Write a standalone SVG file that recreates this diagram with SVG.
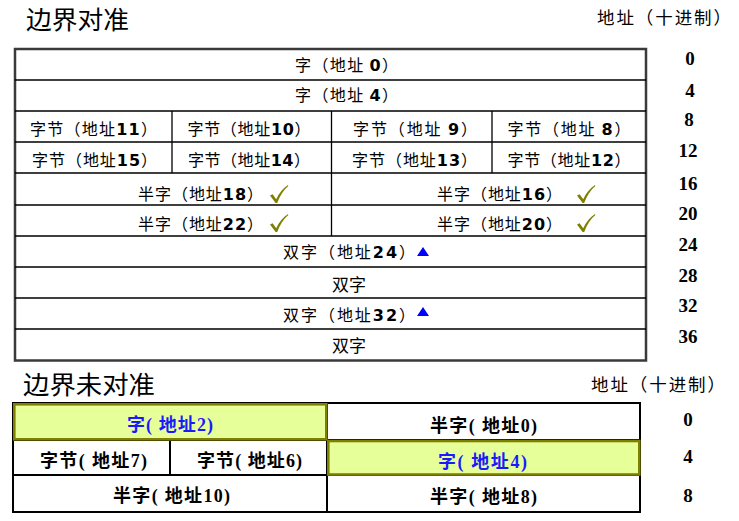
<svg xmlns="http://www.w3.org/2000/svg" width="739" height="521" viewBox="0 0 739 521">
<style>
.t{font-family:"Noto Sans CJK SC","Liberation Sans",sans-serif;font-size:16px;fill:#000;text-anchor:middle}
.d{font-family:"DejaVu Sans","Liberation Sans",sans-serif;font-weight:bold}
.title{font-family:"Noto Sans CJK SC",sans-serif;font-size:25px;fill:#000}
.hdr{font-family:"Noto Sans CJK SC",sans-serif;font-size:17.5px;fill:#000}
.num{font-family:"Liberation Serif","Times New Roman",serif;font-weight:bold;font-size:19px;fill:#000;text-anchor:middle}
.b{font-family:"Liberation Serif","Noto Sans CJK SC",serif;font-weight:bold;font-size:18px;fill:#000;text-anchor:middle}
.blue{fill:#1a1aff}
.ln{stroke:#000;stroke-width:1.3;fill:none}
.ln2{stroke:#000;stroke-width:2;fill:none}
.hl{fill:#e6ff99;stroke:#808000;stroke-width:2.6}
.tri{fill:#0000ff}
.chk{fill:#7f7f00}
</style>
<defs>
<path id="check" d="M0,10.5 L2.6,9.2 L6.2,14.2 C9.2,8 13,3.2 18,0 L18.3,0.9 C13.6,4.8 10,10.5 7.2,18 L5.6,18 Z"/>
</defs>

<g id="titles">
<text class="title" x="26" y="29" textLength="103" lengthAdjust="spacingAndGlyphs">边界对准</text>
<text class="hdr" x="597" y="24" textLength="134" lengthAdjust="spacing">地址（十进制）</text>
<text class="title" x="23" y="394" textLength="132" lengthAdjust="spacingAndGlyphs">边界未对准</text>
<text class="hdr" x="591" y="391" textLength="134" lengthAdjust="spacing">地址（十进制）</text>
</g>

<g id="aligned-table">
<rect x="15" y="49" width="631" height="311.5" fill="#fff" stroke="#3a3a3a" stroke-width="2.5"/>
</g>

<g id="connectors">
<path class="ln" d="M15,80H646 M15,111H646 M15,142H646 M15,173H646 M15,205H646 M15,236H646 M15,267H646 M15,298H646 M15,329H646"/>
<path class="ln" d="M172,111V173 M331.5,111V236 M492,111V173"/>
<path class="ln2" d="M13,440H640 M13,475H640 M327,403V512 M170,440V475"/>
</g>

<g id="row-word0"><text class="t" x="346.5" y="70.5" textLength="103" lengthAdjust="spacing">字（地址 <tspan class="d">0</tspan>）</text></g>
<g id="row-word4"><text class="t" x="346.5" y="100.5" textLength="103" lengthAdjust="spacing">字（地址 <tspan class="d">4</tspan>）</text></g>

<g id="byte11"><text class="t" x="93.5" y="135" textLength="127" lengthAdjust="spacing">字节（地址<tspan class="d">11</tspan>）</text></g>
<g id="byte10"><text class="t" x="249" y="135" textLength="123" lengthAdjust="spacing">字节（地址<tspan class="d">10</tspan>）</text></g>
<g id="byte9"><text class="t" x="415" y="135" textLength="124" lengthAdjust="spacing">字节（地址 <tspan class="d">9</tspan>）</text></g>
<g id="byte8"><text class="t" x="569" y="135" textLength="123" lengthAdjust="spacing">字节（地址 <tspan class="d">8</tspan>）</text></g>

<g id="byte15"><text class="t" x="94.5" y="165.5" textLength="125" lengthAdjust="spacing">字节（地址<tspan class="d">15</tspan>）</text></g>
<g id="byte14"><text class="t" x="249" y="165.5" textLength="122" lengthAdjust="spacing">字节（地址<tspan class="d">14</tspan>）</text></g>
<g id="byte13"><text class="t" x="414.5" y="165.5" textLength="125" lengthAdjust="spacing">字节（地址<tspan class="d">13</tspan>）</text></g>
<g id="byte12"><text class="t" x="569" y="165.5" textLength="123" lengthAdjust="spacing">字节（地址<tspan class="d">12</tspan>）</text></g>

<g id="half18"><text class="t" x="200.5" y="199.5" textLength="125" lengthAdjust="spacing">半字（地址<tspan class="d">18</tspan>）</text><use href="#check" class="chk" x="270" y="185"/></g>
<g id="half16"><text class="t" x="499.5" y="199.5" textLength="125" lengthAdjust="spacing">半字（地址<tspan class="d">16</tspan>）</text><use href="#check" class="chk" x="577" y="185"/></g>
<g id="half22"><text class="t" x="200.5" y="229.5" textLength="125" lengthAdjust="spacing">半字（地址<tspan class="d">22</tspan>）</text><use href="#check" class="chk" x="270" y="214"/></g>
<g id="half20"><text class="t" x="499.5" y="229.5" textLength="125" lengthAdjust="spacing">半字（地址<tspan class="d">20</tspan>）</text><use href="#check" class="chk" x="577" y="214"/></g>

<g id="dword24"><text class="t" x="349" y="257.5" textLength="132" lengthAdjust="spacing">双字（地址<tspan class="d">24</tspan>）</text><polygon class="tri" points="417,256 429,256 423,247"/></g>
<g id="dword28"><text class="t" x="349" y="290.5" style="font-size:17px">双字</text></g>
<g id="dword32"><text class="t" x="349" y="321" textLength="132" lengthAdjust="spacing">双字（地址<tspan class="d">32</tspan>）</text><polygon class="tri" points="417,316 429,316 423,307"/></g>
<g id="dword36"><text class="t" x="349" y="351.5" style="font-size:17px">双字</text></g>

<g id="addr-aligned">
<text class="num" x="690" y="65">0</text>
<text class="num" x="690" y="97">4</text>
<text class="num" x="689" y="126">8</text>
<text class="num" x="688" y="157">12</text>
<text class="num" x="688" y="190">16</text>
<text class="num" x="688" y="220">20</text>
<text class="num" x="688" y="251">24</text>
<text class="num" x="688" y="282">28</text>
<text class="num" x="688" y="312">32</text>
<text class="num" x="688" y="343">36</text>
</g>

<g id="unaligned-table">
<rect x="13" y="403" width="627" height="109" fill="none" stroke="#000" stroke-width="2"/>
</g>

<g id="u-word2"><rect class="hl" x="14.3" y="404.3" width="312" height="35"/><text class="b blue" x="170" y="431" textLength="86" lengthAdjust="spacing">字( 地址2)</text></g>
<g id="u-half0"><text class="b" x="483.5" y="432" textLength="107" lengthAdjust="spacing">半字( 地址0)</text></g>
<g id="u-byte7"><text class="b" x="93.5" y="467" textLength="107" lengthAdjust="spacing">字节( 地址7)</text></g>
<g id="u-byte6"><text class="b" x="249.5" y="467" textLength="105" lengthAdjust="spacing">字节( 地址6)</text></g>
<g id="u-word4"><rect class="hl" x="328.3" y="441" width="311" height="33.5"/><text class="b blue" x="482.5" y="468" textLength="89" lengthAdjust="spacing">字( 地址4)</text></g>
<g id="u-half10"><text class="b" x="171.5" y="502" textLength="117" lengthAdjust="spacing">半字( 地址10)</text></g>
<g id="u-half8"><text class="b" x="483.5" y="503" textLength="107" lengthAdjust="spacing">半字( 地址8)</text></g>

<g id="addr-unaligned">
<text class="num" x="688" y="426">0</text>
<text class="num" x="688" y="463">4</text>
<text class="num" x="688" y="502">8</text>
</g>
</svg>
